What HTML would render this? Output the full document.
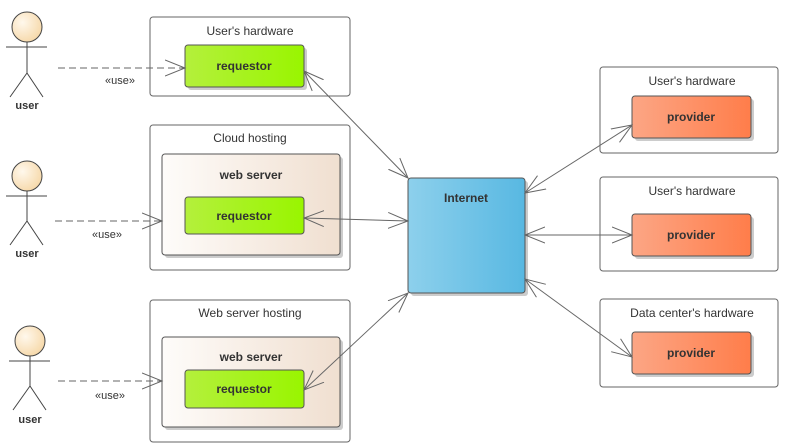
<!DOCTYPE html>
<html><head><meta charset="utf-8"><style>
html,body{margin:0;padding:0;background:#fff;}
svg{display:block;font-family:"Liberation Sans","DejaVu Sans",sans-serif;}
</style></head><body>
<svg width="785" height="443" viewBox="0 0 785 443" xmlns="http://www.w3.org/2000/svg">
<defs>
<marker id="a" markerUnits="userSpaceOnUse" markerWidth="24" markerHeight="20" refX="20" refY="10" orient="auto-start-reverse" viewBox="0 0 24 20">
<path d="M0,2 L20,10 L0,18" fill="none" stroke="#666" stroke-width="1"/></marker>
<linearGradient id="g" x1="0" x2="1"><stop offset="0" stop-color="#b4f03c"/><stop offset="1" stop-color="#99f500"/></linearGradient>
<linearGradient id="o" x1="0" x2="1"><stop offset="0" stop-color="#fca685"/><stop offset="1" stop-color="#ff7d4a"/></linearGradient>
<linearGradient id="b" x1="0" x2="1"><stop offset="0" stop-color="#8dd0ec"/><stop offset="1" stop-color="#58b8e2"/></linearGradient>
<linearGradient id="w" x1="0" x2="1"><stop offset="0" stop-color="#fefcfa"/><stop offset="1" stop-color="#f0dfd0"/></linearGradient>
<radialGradient id="h" cx="0.35" cy="0.35" r="0.8"><stop offset="0" stop-color="#fff8ec"/><stop offset="1" stop-color="#f5d4a0"/></radialGradient>
</defs>
<g stroke="#444" fill="none">
<!-- actors -->
<g id="act1"><circle cx="27" cy="27" r="15" fill="url(#h)"/><path d="M27,42 V73 M6,47 H47 M27,73 L10,97 M27,73 L43,97"/></g>
<g><circle cx="27" cy="176" r="15" fill="url(#h)"/><path d="M27,191 V221 M6,196 H47 M27,221 L10,245 M27,221 L43,245"/></g>
<g><circle cx="30" cy="341" r="15" fill="url(#h)"/><path d="M30,356 V386 M9,361 H50 M30,386 L13,410 M30,386 L46,410"/></g>
</g>
<g font-size="11" font-weight="bold" fill="#333" text-anchor="middle">
<text x="27" y="109">user</text><text x="27" y="257">user</text><text x="30" y="423">user</text>
</g>
<!-- containers -->
<g fill="#fff" stroke="#666">
<rect x="150" y="17" width="200" height="79" rx="3"/>
<rect x="150" y="125" width="200" height="145" rx="3"/>
<rect x="150" y="300" width="200" height="142" rx="3"/>
<rect x="600" y="67" width="178" height="86" rx="3"/>
<rect x="600" y="177" width="178" height="94" rx="3"/>
<rect x="600" y="299" width="178" height="88" rx="3"/>
</g>
<g font-size="12" fill="#333" text-anchor="middle">
<text x="250" y="35">User's hardware</text>
<text x="250" y="142">Cloud hosting</text>
<text x="250" y="317">Web server hosting</text>
<text x="692" y="85">User's hardware</text>
<text x="692" y="195">User's hardware</text>
<text x="692" y="317">Data center's hardware</text>
</g>
<!-- shadows -->
<g fill="#ccc">
<rect x="165" y="157" width="178" height="101" rx="3"/>
<rect x="165" y="340" width="178" height="90" rx="3"/>
<rect x="188" y="48" width="119" height="42" rx="3"/>
<rect x="188" y="200" width="119" height="37" rx="3"/>
<rect x="188" y="373" width="119" height="38" rx="3"/>
<rect x="411" y="181" width="117" height="115" rx="3"/>
<rect x="635" y="99" width="119" height="42" rx="3"/>
<rect x="635" y="217" width="119" height="42" rx="3"/>
<rect x="635" y="335" width="119" height="42" rx="3"/>
</g>
<g stroke="#555">
<rect x="162" y="154" width="178" height="101" rx="3" fill="url(#w)"/>
<rect x="162" y="337" width="178" height="90" rx="3" fill="url(#w)"/>
<rect x="185" y="45" width="119" height="42" rx="3" fill="url(#g)"/>
<rect x="185" y="197" width="119" height="37" rx="3" fill="url(#g)"/>
<rect x="185" y="370" width="119" height="38" rx="3" fill="url(#g)"/>
<rect x="408" y="178" width="117" height="115" rx="3" fill="url(#b)"/>
<rect x="632" y="96" width="119" height="42" rx="3" fill="url(#o)"/>
<rect x="632" y="214" width="119" height="42" rx="3" fill="url(#o)"/>
<rect x="632" y="332" width="119" height="42" rx="3" fill="url(#o)"/>
</g>
<g font-size="12" font-weight="bold" fill="#333" text-anchor="middle">
<text x="251" y="179">web server</text>
<text x="251" y="361">web server</text>
<text x="244" y="70">requestor</text>
<text x="244" y="220">requestor</text>
<text x="244" y="393">requestor</text>
<text x="466" y="202">Internet</text>
<text x="691" y="121">provider</text>
<text x="691" y="239">provider</text>
<text x="691" y="357">provider</text>
</g>
<!-- connectors -->
<g stroke="#666" fill="none">
<path d="M58,68 H185" stroke-dasharray="7,4" marker-end="url(#a)"/>
<path d="M55,221 H162" stroke-dasharray="7,4" marker-end="url(#a)"/>
<path d="M58,381 H162" stroke-dasharray="7,4" marker-end="url(#a)"/>
<path d="M304,71 L408,178" marker-start="url(#a)" marker-end="url(#a)"/>
<path d="M304,218 L408,221" marker-start="url(#a)" marker-end="url(#a)"/>
<path d="M304,390 L408,293" marker-start="url(#a)" marker-end="url(#a)"/>
<path d="M525,193 L632,125" marker-start="url(#a)" marker-end="url(#a)"/>
<path d="M525,235 L632,235" marker-start="url(#a)" marker-end="url(#a)"/>
<path d="M525,279 L632,357" marker-start="url(#a)" marker-end="url(#a)"/>
</g>
<g font-size="11" fill="#333" text-anchor="middle">
<text x="120" y="84">«use»</text>
<text x="107" y="238">«use»</text>
<text x="110" y="399">«use»</text>
</g>
</svg>
</body></html>
